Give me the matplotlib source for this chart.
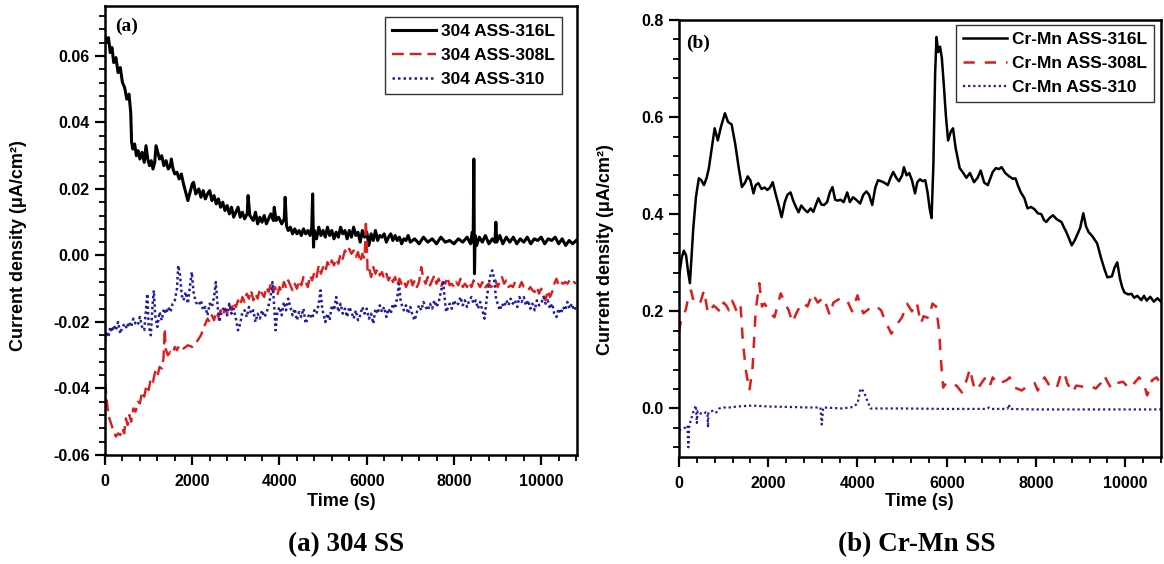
import matplotlib
matplotlib.use("Agg")
import matplotlib.pyplot as plt
from matplotlib.ticker import MultipleLocator, FuncFormatter

plt.rcParams['font.family'] = ['Liberation Sans', 'DejaVu Sans']
plt.rcParams['font.weight'] = 'bold'
plt.rcParams['axes.unicode_minus'] = False

RED = '#e01b1b'
BLUE = '#1c1ca6'

# ---- (a) 304 SS : current density (uA/cm2) vs time (s) ----
t_316_a = [0, 40, 80, 120, 160, 200, 250, 300, 350, 400, 450, 500, 550, 590, 610, 640, 680, 720, 760, 800,
           850, 900, 940, 980, 1020, 1060, 1100, 1140, 1170, 1200, 1250, 1300, 1350, 1400, 1450, 1500, 1520, 1560, 1600, 1650,
           1700, 1750, 1800, 1850, 1900, 1950, 2000, 2030, 2080, 2150, 2200, 2250, 2300, 2350, 2400, 2450, 2500, 2550, 2600, 2650,
           2700, 2750, 2800, 2850, 2900, 2950, 3000, 3050, 3100, 3150, 3200, 3260, 3280, 3320, 3400, 3450, 3500, 3550, 3600, 3650,
           3700, 3750, 3800, 3860, 3880, 3920, 3980, 4050, 4110, 4130, 4160, 4200, 4250, 4300, 4350, 4400, 4450, 4500, 4550, 4600,
           4650, 4700, 4740, 4760, 4780, 4800, 4850, 4900, 4950, 5000, 5050, 5100, 5150, 5200, 5250, 5300, 5350, 5400, 5450, 5500,
           5550, 5600, 5650, 5700, 5750, 5800, 5850, 5900, 5950, 6000, 6050, 6100, 6150, 6200, 6250, 6300, 6350, 6400, 6450, 6500,
           6550, 6600, 6650, 6700, 6750, 6800, 6850, 6900, 6950, 7000, 7100, 7200, 7300, 7400, 7500, 7600, 7700, 7800, 7900, 8000,
           8100, 8200, 8300, 8380, 8420, 8440, 8455, 8470, 8485, 8520, 8580, 8650, 8720, 8800, 8880, 8940, 8960, 8980, 9050, 9120,
           9200, 9280, 9360, 9440, 9520, 9600, 9680, 9760, 9840, 9920, 10000, 10080, 10160, 10240, 10320, 10400, 10480, 10560, 10640, 10720, 10800]
j_316_a = [0.066, 0.064, 0.0655, 0.061, 0.0625, 0.058, 0.0595, 0.055, 0.0565, 0.052, 0.0505, 0.047, 0.0485, 0.043, 0.034, 0.032, 0.0335, 0.030, 0.0315, 0.029,
           0.031, 0.028, 0.033, 0.029, 0.027, 0.0285, 0.026, 0.028, 0.033, 0.0315, 0.029, 0.030, 0.027, 0.0285, 0.026, 0.027, 0.029, 0.026, 0.0245, 0.025,
           0.023, 0.0245, 0.0215, 0.019, 0.0165, 0.019, 0.0215, 0.022, 0.0185, 0.020, 0.0175, 0.0195, 0.017, 0.0185, 0.0195, 0.0165, 0.018, 0.0155, 0.017, 0.0145,
           0.016, 0.0135, 0.015, 0.0125, 0.0145, 0.0115, 0.013, 0.0145, 0.0115, 0.013, 0.011, 0.0125, 0.018, 0.012, 0.0105, 0.013, 0.0095, 0.0115, 0.010, 0.012,
           0.0095, 0.011, 0.0125, 0.0105, 0.0145, 0.0105, 0.0115, 0.0095, 0.011, 0.0175, 0.009, 0.0075, 0.0085, 0.0065, 0.008, 0.0065, 0.0075, 0.006, 0.008, 0.0065,
           0.0075, 0.006, 0.0085, 0.0185, 0.0025, 0.0075, 0.005, 0.0085, 0.006, 0.0075, 0.0055, 0.0085, 0.006, 0.0075, 0.005, 0.007, 0.0055, 0.0085, 0.0065, 0.0075,
           0.005, 0.0075, 0.0055, 0.0085, 0.006, 0.007, 0.004, 0.0075, 0.0055, 0.007, 0.003, 0.0065, 0.0045, 0.0075, 0.0045, 0.006, 0.0055, 0.0065, 0.004, 0.0055,
           0.0065, 0.0045, 0.006, 0.0045, 0.0055, 0.0035, 0.005, 0.0045, 0.006, 0.004, 0.005, 0.0035, 0.0055, 0.004, 0.005, 0.0035, 0.0055, 0.004, 0.0045, 0.0035,
           0.005, 0.004, 0.0055, 0.0035, 0.007, 0.004, 0.029, -0.0055, 0.006, 0.003, 0.0055, 0.004, 0.006, 0.0035, 0.005, 0.004, 0.010, 0.004, 0.006, 0.0035,
           0.0055, 0.004, 0.0055, 0.0035, 0.005, 0.004, 0.0055, 0.0035, 0.005, 0.0045, 0.0055, 0.0035, 0.005, 0.0045, 0.0055, 0.0035, 0.005, 0.003, 0.0045, 0.0035, 0.0045]

t_308_a = [0, 30, 60, 100, 150, 200, 250, 300, 350, 400, 440, 480, 520, 560, 600, 650, 700, 750, 800, 850,
           900, 950, 1000, 1050, 1100, 1150, 1200, 1250, 1300, 1340, 1370, 1390, 1440, 1500, 1550, 1600, 1650, 1700, 1800, 1900,
           2000, 2100, 2200, 2270, 2350, 2400, 2450, 2500, 2550, 2600, 2650, 2700, 2750, 2800, 2850, 2900, 2950, 3000, 3050, 3100,
           3150, 3200, 3250, 3300, 3350, 3400, 3450, 3500, 3550, 3600, 3650, 3700, 3750, 3800, 3850, 3900, 3950, 4000, 4050, 4100,
           4150, 4200, 4250, 4300, 4350, 4400, 4450, 4500, 4550, 4600, 4650, 4700, 4750, 4800, 4850, 4900, 4950, 5000, 5050, 5100,
           5150, 5200, 5250, 5300, 5350, 5400, 5450, 5500, 5550, 5600, 5650, 5700, 5750, 5800, 5850, 5900, 5950, 5980, 6000, 6020,
           6060, 6100, 6150, 6200, 6250, 6300, 6350, 6400, 6450, 6500, 6550, 6600, 6650, 6700, 6750, 6800, 6850, 6900, 6950, 7000,
           7050, 7100, 7150, 7200, 7250, 7300, 7350, 7400, 7450, 7500, 7550, 7600, 7650, 7700, 7750, 7800, 7850, 7900, 7950, 8000,
           8050, 8100, 8150, 8200, 8250, 8300, 8350, 8400, 8450, 8500, 8550, 8600, 8650, 8700, 8750, 8800, 8850, 8900, 8950, 9000,
           9050, 9100, 9150, 9200, 9250, 9300, 9350, 9400, 9450, 9500, 9550, 9600, 9650, 9700, 9750, 9800, 9850, 9900, 9950, 10000,
           10050, 10100, 10150, 10200, 10250, 10300, 10350, 10400, 10450, 10500, 10550, 10600, 10650, 10700, 10750, 10800]
j_308_a = [-0.038, -0.042, -0.046, -0.049, -0.051, -0.053, -0.0545, -0.0535, -0.054, -0.052, -0.0535, -0.049, -0.051, -0.048, -0.050, -0.046, -0.047, -0.044, -0.0445, -0.041,
           -0.0425, -0.039, -0.0405, -0.037, -0.038, -0.035, -0.0365, -0.0335, -0.034, -0.031, -0.022, -0.028, -0.030, -0.029, -0.0295, -0.0275, -0.0285, -0.027, -0.028, -0.027,
           -0.0275, -0.026, -0.024, -0.0215, -0.019, -0.020, -0.018, -0.0195, -0.017, -0.0185, -0.0165, -0.018, -0.016, -0.0175, -0.015, -0.0165, -0.014, -0.0155, -0.0135, -0.015,
           -0.0125, -0.014, -0.0115, -0.013, -0.0105, -0.0135, -0.0115, -0.013, -0.010, -0.0115, -0.0125, -0.0095, -0.011, -0.0085, -0.011, -0.0095, -0.012, -0.0095, -0.011, -0.008,
           -0.0095, -0.0075, -0.009, -0.0105, -0.0085, -0.010, -0.0075, -0.009, -0.0065, -0.008, -0.0095, -0.006, -0.0075, -0.005, -0.0065, -0.003, -0.0055, -0.0035, -0.005, -0.002,
           -0.0035, -0.0015, -0.003, -0.001, -0.0025, 0.0005, -0.001, 0.0015, 0.0005, 0.002, 0.0005, 0.0015, -0.0005, 0.001, -0.002, 0.0005, -0.001, 0.0105, 0.004, -0.005,
           -0.004, -0.0065, -0.0035, -0.0055, -0.004, -0.006, -0.005, -0.007, -0.0055, -0.0075, -0.006, -0.008, -0.0065, -0.009, -0.007, -0.0085, -0.0075, -0.0095, -0.008, -0.0065,
           -0.009, -0.0075, -0.0095, -0.008, -0.0035, -0.007, -0.0085, -0.0065, -0.009, -0.0075, -0.006, -0.0085, -0.007, -0.0095, -0.008, -0.0085, -0.0065, -0.009, -0.0085, -0.0095,
           -0.008, -0.009, -0.007, -0.0095, -0.0085, -0.0095, -0.008, -0.0095, -0.0075, -0.009, -0.0085, -0.0095, -0.008, -0.010, -0.009, -0.0085, -0.0095, -0.009, -0.0075, -0.0095,
           -0.008, -0.0065, -0.0085, -0.0075, -0.0095, -0.009, -0.0095, -0.008, -0.009, -0.0095, -0.008, -0.0095, -0.010, -0.0105, -0.0095, -0.0105, -0.011, -0.0095, -0.0115, -0.010,
           -0.012, -0.0135, -0.0105, -0.0125, -0.011, -0.0085, -0.007, -0.009, -0.008, -0.0085, -0.008, -0.0085, -0.0075, -0.0085, -0.008, -0.0085]

t_310_a = [0, 40, 80, 120, 160, 200, 250, 300, 350, 400, 450, 500, 550, 600, 650, 700, 750, 800, 850, 900,
           940, 970, 1000, 1050, 1090, 1120, 1150, 1200, 1250, 1300, 1350, 1400, 1450, 1500, 1550, 1600, 1650, 1680, 1720, 1760,
           1800, 1850, 1900, 1950, 1990, 2030, 2080, 2150, 2200, 2250, 2300, 2350, 2400, 2450, 2500, 2540, 2580, 2620, 2680, 2750,
           2800, 2850, 2900, 2950, 3000, 3050, 3100, 3150, 3200, 3250, 3300, 3350, 3400, 3450, 3500, 3550, 3600, 3650, 3700, 3750,
           3800, 3840, 3880, 3910, 3950, 4000, 4050, 4100, 4150, 4200, 4250, 4300, 4350, 4400, 4450, 4500, 4550, 4600, 4650, 4700,
           4750, 4800, 4850, 4900, 4940, 4980, 5050, 5100, 5150, 5200, 5250, 5300, 5350, 5400, 5450, 5500, 5550, 5600, 5650, 5700,
           5750, 5800, 5850, 5900, 5950, 6000, 6050, 6100, 6150, 6200, 6250, 6300, 6350, 6400, 6450, 6500, 6550, 6600, 6650, 6700,
           6740, 6780, 6850, 6900, 6950, 7000, 7050, 7100, 7150, 7200, 7250, 7300, 7350, 7400, 7450, 7500, 7550, 7600, 7650, 7700,
           7750, 7780, 7820, 7900, 7950, 8000, 8050, 8100, 8150, 8200, 8250, 8300, 8350, 8400, 8450, 8500, 8550, 8600, 8650, 8700,
           8750, 8800, 8850, 8880, 8920, 8960, 9000, 9050, 9100, 9150, 9200, 9250, 9300, 9350, 9400, 9450, 9500, 9550, 9600, 9650,
           9700, 9750, 9800, 9850, 9900, 9950, 10000, 10050, 10100, 10150, 10200, 10250, 10300, 10350, 10400, 10450, 10500, 10550, 10600, 10650,
           10700, 10750, 10800]
j_310_a = [-0.026, -0.023, -0.0245, -0.0215, -0.023, -0.021, -0.0225, -0.020, -0.0235, -0.0215, -0.0205, -0.022, -0.020, -0.0215, -0.019, -0.0205, -0.021, -0.0185, -0.0215, -0.0225,
           -0.016, -0.0115, -0.021, -0.024, -0.015, -0.0105, -0.018, -0.0215, -0.017, -0.0195, -0.016, -0.0175, -0.0155, -0.017, -0.0145, -0.0135, -0.010, -0.003, -0.006, -0.012,
           -0.0135, -0.011, -0.0145, -0.009, -0.005, -0.011, -0.014, -0.015, -0.0135, -0.0165, -0.0155, -0.018, -0.0145, -0.0155, -0.0125, -0.008, -0.015, -0.020, -0.0165, -0.0155,
           -0.018, -0.0145, -0.0175, -0.016, -0.019, -0.0225, -0.0205, -0.017, -0.0165, -0.0185, -0.0155, -0.0175, -0.0165, -0.020, -0.0175, -0.019, -0.0165, -0.0185, -0.0175, -0.015,
           -0.012, -0.008, -0.0155, -0.0225, -0.017, -0.0155, -0.018, -0.014, -0.0165, -0.013, -0.0155, -0.018, -0.016, -0.0195, -0.017, -0.0185, -0.016, -0.0205, -0.0185, -0.0175,
           -0.019, -0.0165, -0.0175, -0.0145, -0.0105, -0.016, -0.020, -0.0175, -0.0195, -0.015, -0.0165, -0.0125, -0.017, -0.0145, -0.0175, -0.016, -0.0185, -0.0155, -0.017, -0.019,
           -0.0165, -0.0195, -0.018, -0.0155, -0.0175, -0.016, -0.019, -0.0175, -0.0205, -0.016, -0.0175, -0.015, -0.017, -0.0155, -0.0185, -0.016, -0.0175, -0.0145, -0.016, -0.0125,
           -0.0085, -0.014, -0.0165, -0.015, -0.0175, -0.0155, -0.018, -0.0195, -0.017, -0.015, -0.0165, -0.014, -0.0155, -0.0165, -0.0145, -0.016, -0.0135, -0.0155, -0.014, -0.011,
           -0.0075, -0.012, -0.017, -0.0145, -0.016, -0.0135, -0.015, -0.0145, -0.0125, -0.015, -0.0135, -0.0155, -0.0135, -0.0125, -0.0145, -0.0135, -0.016, -0.014, -0.0165, -0.019,
           -0.013, -0.0085, -0.005, -0.0045, -0.007, -0.0125, -0.0145, -0.0165, -0.0145, -0.0155, -0.0135, -0.015, -0.013, -0.0145, -0.0135, -0.0155, -0.0125, -0.014, -0.0125, -0.015,
           -0.0135, -0.016, -0.0145, -0.0165, -0.0135, -0.015, -0.0145, -0.0125, -0.0145, -0.0135, -0.016, -0.0145, -0.0175, -0.0185, -0.016, -0.0175, -0.0155, -0.0165, -0.014, -0.016,
           -0.0145, -0.0165, -0.0155]

# ---- (b) Cr-Mn SS ----
t_316_b = [0, 60, 110, 160, 200, 245, 280, 320, 380, 445, 500, 560, 620, 670, 740, 800, 870, 940, 1030, 1100,
           1180, 1260, 1340, 1410, 1480, 1540, 1600, 1670, 1720, 1780, 1850, 1920, 1980, 2040, 2100, 2170, 2230, 2300, 2370, 2430,
           2500, 2560, 2620, 2680, 2740, 2810, 2880, 2950, 3010, 3070, 3125, 3190, 3250, 3320, 3380, 3440, 3500, 3560, 3620, 3690,
           3770, 3830, 3900, 3970, 4060, 4130, 4200, 4260, 4330, 4400, 4460, 4530, 4600, 4680, 4740, 4800, 4870, 4930, 5000, 5040,
           5100, 5160, 5220, 5290, 5340, 5400, 5460, 5520, 5570, 5620, 5660, 5700, 5740, 5770, 5810, 5850, 5890, 5930, 5980, 6030,
           6090, 6140, 6200, 6290, 6370, 6440, 6520, 6610, 6690, 6760, 6840, 6920, 7030, 7100, 7170, 7230, 7310, 7400, 7480, 7540,
           7600, 7660, 7740, 7810, 7890, 7970, 8040, 8120, 8180, 8230, 8300, 8380, 8460, 8570, 8620, 8680, 8740, 8800, 8860, 8920,
           8990, 9060, 9120, 9180, 9260, 9370, 9460, 9540, 9600, 9700, 9760, 9820, 9880, 9930, 9980, 10060, 10140, 10200, 10270, 10360,
           10420, 10480, 10560, 10640, 10720, 10800]
j_316_b = [0.27, 0.31, 0.325, 0.315, 0.285, 0.258, 0.31, 0.37, 0.435, 0.474, 0.47, 0.46, 0.475, 0.495, 0.54, 0.577, 0.552, 0.58, 0.608, 0.59,
           0.585, 0.545, 0.495, 0.456, 0.465, 0.478, 0.47, 0.443, 0.46, 0.464, 0.452, 0.455, 0.45, 0.455, 0.466, 0.44, 0.42, 0.394, 0.425, 0.44,
           0.445, 0.428, 0.415, 0.404, 0.418, 0.41, 0.404, 0.412, 0.405, 0.42, 0.433, 0.42, 0.419, 0.425, 0.445, 0.456, 0.43, 0.428, 0.43, 0.425,
           0.445, 0.425, 0.435, 0.43, 0.422, 0.44, 0.447, 0.44, 0.419, 0.455, 0.47, 0.468, 0.465, 0.46, 0.475, 0.487, 0.475, 0.468, 0.48, 0.497,
           0.48, 0.485, 0.47, 0.443, 0.466, 0.472, 0.468, 0.47, 0.445, 0.41, 0.392, 0.5, 0.69, 0.765, 0.734, 0.745, 0.722, 0.672, 0.604, 0.552,
           0.57, 0.577, 0.536, 0.495, 0.485, 0.475, 0.485, 0.466, 0.475, 0.49, 0.465, 0.46, 0.487, 0.495, 0.493, 0.497, 0.485, 0.478, 0.473, 0.474,
           0.458, 0.445, 0.433, 0.412, 0.415, 0.41, 0.402, 0.4, 0.388, 0.384, 0.392, 0.398, 0.39, 0.384, 0.374, 0.363, 0.35, 0.336, 0.345, 0.357,
           0.372, 0.402, 0.375, 0.363, 0.355, 0.34, 0.309, 0.285, 0.27, 0.272, 0.29, 0.301, 0.268, 0.25, 0.239, 0.235, 0.236, 0.228, 0.232, 0.223,
           0.232, 0.222, 0.23, 0.22, 0.227, 0.22]

t_308_b = [0, 60, 150, 210, 270, 330, 380, 470, 560, 650, 720, 780, 860, 940, 1000, 1060, 1120, 1190, 1250, 1300,
           1380, 1430, 1500, 1580, 1650, 1720, 1800, 1860, 1920, 2030, 2140, 2280, 2380, 2460, 2540, 2650, 2770, 2880, 2990, 3110,
           3240, 3380, 3460, 3620, 3760, 3880, 4000, 4060, 4130, 4260, 4400, 4530, 4620, 4760, 4860, 5000, 5110, 5220, 5330, 5420,
           5480, 5600, 5680, 5760, 5830, 5870, 5920, 6000, 6110, 6220, 6340, 6450, 6520, 6570, 6630, 6740, 6850, 6960, 7030, 7140,
           7340, 7410, 7520, 7680, 7820, 7970, 8040, 8190, 8300, 8460, 8570, 8640, 8700, 8820, 8900, 9050, 9200, 9340, 9450, 9530,
           9600, 9690, 9800, 9950, 10090, 10200, 10310, 10420, 10490, 10600, 10700, 10800]
j_308_b = [0.157, 0.19, 0.202, 0.23, 0.243, 0.22, 0.218, 0.215, 0.243, 0.196, 0.205, 0.212, 0.205, 0.198, 0.218, 0.212, 0.202, 0.222, 0.21, 0.198,
           0.212, 0.14, 0.078, 0.037, 0.085, 0.202, 0.258, 0.21, 0.216, 0.198, 0.188, 0.237, 0.216, 0.202, 0.177, 0.2, 0.218, 0.21, 0.237, 0.218,
           0.229, 0.192, 0.218, 0.227, 0.224, 0.2, 0.233, 0.215, 0.196, 0.205, 0.212, 0.202, 0.18, 0.154, 0.17, 0.188, 0.216, 0.2, 0.218, 0.175,
           0.19, 0.186, 0.216, 0.21, 0.16, 0.099, 0.043, 0.054, 0.05, 0.047, 0.033, 0.06, 0.082, 0.06, 0.037, 0.047, 0.062, 0.045, 0.064, 0.05,
           0.058, 0.064, 0.043, 0.037, 0.047, 0.052, 0.037, 0.064, 0.047, 0.041, 0.074, 0.072, 0.052, 0.033, 0.047, 0.045, 0.047, 0.041, 0.052, 0.068,
           0.055, 0.041, 0.052, 0.055, 0.041, 0.052, 0.064, 0.05, 0.027, 0.058, 0.064, 0.05]

t_310_b = [0, 80, 150, 190, 210, 230, 280, 330, 380, 400, 420, 480, 540, 600, 640, 650, 660, 720, 780, 840,
           900, 1000, 1120, 1300, 1650, 2000, 2500, 2900, 3170, 3200, 3230, 3660, 3900, 4000, 4070, 4140, 4220, 4290, 5000, 6000,
           6900, 6950, 7000, 7360, 7390, 7420, 8000, 9000, 10000, 10800]
j_310_b = [-0.045, -0.042, -0.039, -0.035, -0.08, -0.035, -0.02, -0.004, 0.006, -0.03, -0.005, -0.01, -0.012, -0.008, -0.01, -0.039, -0.008, -0.006, -0.004, -0.008,
           0.0, 0.002, 0.002, 0.004, 0.006, 0.004, 0.003, 0.002, 0.002, -0.033, 0.002, 0.0, 0.003, 0.01, 0.041, 0.035, 0.016, 0.0, 0.0, -0.001,
           -0.001, 0.002, -0.001, -0.001, 0.008, -0.001, -0.002, -0.002, -0.002, -0.002]

labels_a = ['304 ASS-316L', '304 ASS-308L', '304 ASS-310']
labels_b = ['Cr-Mn ASS-316L', 'Cr-Mn ASS-308L', 'Cr-Mn ASS-310']


# common axis styling for both panels
def style_axis(ax, ylim, ymajor, yminor, ndec):
    ax.set_xlim(0, 10820)
    ax.set_ylim(*ylim)
    ax.xaxis.set_major_locator(MultipleLocator(2000))
    ax.xaxis.set_minor_locator(MultipleLocator(400))
    ax.yaxis.set_major_locator(MultipleLocator(ymajor))
    ax.yaxis.set_minor_locator(MultipleLocator(yminor))
    ax.yaxis.set_major_formatter(FuncFormatter(
        lambda v, p: f"{0.0 if abs(v) < 1e-9 else v:.{ndec}f}"))
    ax.tick_params(which='major', direction='out', length=7, width=1.6, labelsize=11.5)
    ax.tick_params(which='minor', direction='out', length=4, width=1.3)
    ax.tick_params(axis='x', which='major', pad=7)
    ax.tick_params(axis='y', which='major', pad=4)
    for s in ax.spines.values():
        s.set_linewidth(1.8)


def add_legend(ax, anchor):
    leg = ax.legend(loc='upper right', bbox_to_anchor=anchor, borderaxespad=0,
                    frameon=True, fancybox=False, framealpha=1, edgecolor='#333333',
                    fontsize=12.5, handlelength=2.5, handletextpad=0.3,
                    borderpad=0.4, labelspacing=0.5)
    leg.get_frame().set_linewidth(1.0)


fig = plt.figure(figsize=(11.64, 5.64), dpi=100)
ax_a = fig.add_axes([0.0902, 0.1933, 0.4055, 0.796])
ax_b = fig.add_axes([0.5833, 0.1897, 0.4141, 0.7748])

# panel (a)
ax_a.plot(t_316_a, j_316_a, color='black', lw=2.2, label=labels_a[0])
ax_a.plot(t_308_a, j_308_a, color=RED, lw=1.7, ls=(0, (5, 2.5)), label=labels_a[1])
ax_a.plot(t_310_a, j_310_a, color=BLUE, lw=1.8, ls=(0, (1, 1.2)), label=labels_a[2])
style_axis(ax_a, (-0.06, 0.075), 0.02, 0.004, 2)
add_legend(ax_a, (0.968, 0.975))
ax_a.text(0.021, 0.973, '(a)', transform=ax_a.transAxes, va='top', ha='left',
          family='Liberation Serif', weight='bold', fontsize=14)

# panel (b)
ax_b.plot(t_316_b, j_316_b, color='black', lw=1.8, label=labels_b[0])
ax_b.plot(t_308_b, j_308_b, color=RED, lw=1.8, ls=(0, (4.5, 4)), label=labels_b[1])
ax_b.plot(t_310_b, j_310_b, color=BLUE, lw=1.6, ls=(0, (1, 1.3)), label=labels_b[2])
style_axis(ax_b, (-0.1, 0.8), 0.2, 0.04, 1)
ax_b.set_xlim(0, 10800)
add_legend(ax_b, (0.9855, 0.9886))
ax_b.text(0.0145, 0.9657, '(b)', transform=ax_b.transAxes, va='top', ha='left',
          family='Liberation Serif', weight='bold', fontsize=14)

# axis titles and captions
ylab = 'Current density (\u03bcA/cm\u00b2)'
fig.text(0.0155, 0.564, ylab, rotation=90, ha='center', va='center', fontsize=13)
fig.text(0.52, 0.557, ylab, rotation=90, ha='center', va='center', fontsize=13)
fig.text(0.293, 0.11, 'Time (s)', ha='center', va='center', fontsize=13)
fig.text(0.790, 0.11, 'Time (s)', ha='center', va='center', fontsize=13)
fig.text(0.297, 0.034, '(a) 304 SS', ha='center', va='center',
         family='Liberation Serif', weight='bold', fontsize=19.5)
fig.text(0.788, 0.034, '(b) Cr-Mn SS', ha='center', va='center',
         family='Liberation Serif', weight='bold', fontsize=19.5)

fig.savefig('out.png', dpi=100)
